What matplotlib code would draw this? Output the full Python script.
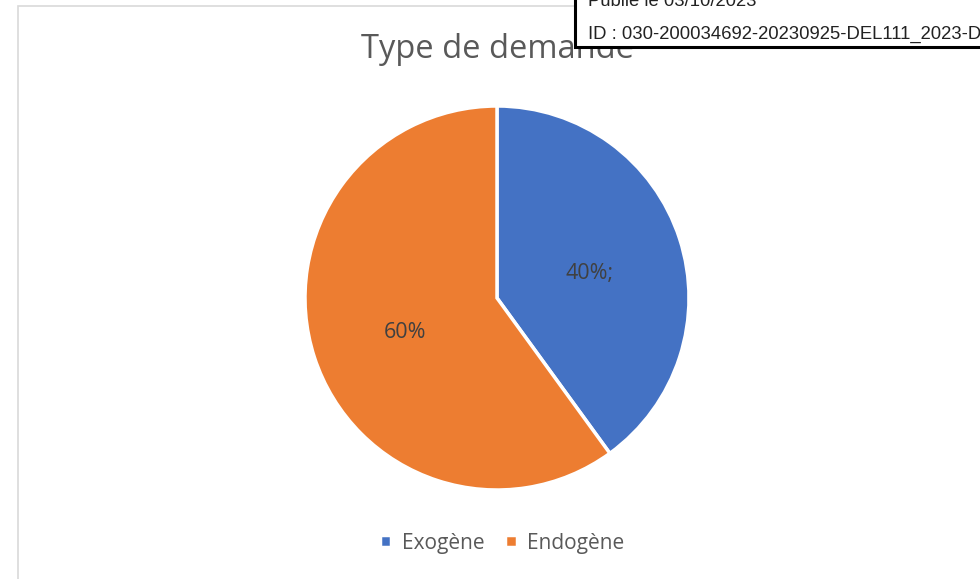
import matplotlib.pyplot as plt
from matplotlib.patches import Rectangle

# Data
categories = ['Exogène', 'Endogène']
values = [40, 60]
labels = ['40%;', '60%']
colors = ['#4472C4', '#ED7D31']

title = 'Type de demande'
stamp_lines = ['Publié le 03/10/2023', 'ID : 030-200034692-20230925-DEL111_2023-DE']

fig = plt.figure(figsize=(9.8, 5.79), dpi=100)
fig.patch.set_facecolor('white')

# chart area border (Excel style frame)
fig.patches.append(Rectangle((18 / 980, -0.01), 1.0, 1 - 6 / 579 + 0.01,
                             transform=fig.transFigure, fill=False,
                             edgecolor='#d9d9d9', linewidth=1.2))

# pie axes: center (497, 297), radius ~192 px
r = 192
ax = fig.add_axes([(497 - r) / 980, 1 - (298 + r) / 579, 2 * r / 980, 2 * r / 579])
wedges, _ = ax.pie(values, colors=colors, startangle=90, counterclock=False,
                   wedgeprops=dict(edgecolor='white', linewidth=2.5))
ax.set_aspect('auto')
ax.set_xlim(-1, 1)
ax.set_ylim(-1, 1)

# data labels
ax.text(0.48, 0.13, labels[0], ha='center', va='center', fontsize=15.5,
        color='#404040', family='Open Sans')
ax.text(-0.48, -0.18, labels[1], ha='center', va='center', fontsize=15.5,
        color='#404040', family='Open Sans')

fig.text(497 / 980, 1 - 50 / 579, title, ha='center', va='center',
         fontsize=23.5, color='#595959', family='Open Sans')

leg = fig.legend(wedges, categories, loc='center', bbox_to_anchor=(502 / 980, 1 - 543 / 579),
                 ncol=2, frameon=False, handlelength=0.55, handleheight=0.55,
                 columnspacing=1.0, handletextpad=0.5, prop={'family': 'Open Sans', 'size': 15})
for t in leg.get_texts():
    t.set_color('#595959')

# stamp box overlapping top right
fig.patches.append(Rectangle((575 / 980, 1 - 47 / 579), 0.5, 0.2,
                             transform=fig.transFigure, facecolor='white',
                             edgecolor='black', linewidth=2.2, zorder=5))
fig.text(588 / 980, 1 - 1 / 579, stamp_lines[0], ha='left', va='center',
         fontsize=13.3, color='#222222', family='Liberation Sans', zorder=6)
fig.text(588 / 980, 1 - 34 / 579, stamp_lines[1], ha='left', va='center',
         fontsize=13.3, color='#222222', family='Liberation Sans', zorder=6)

fig.savefig('out.png', dpi=100)
